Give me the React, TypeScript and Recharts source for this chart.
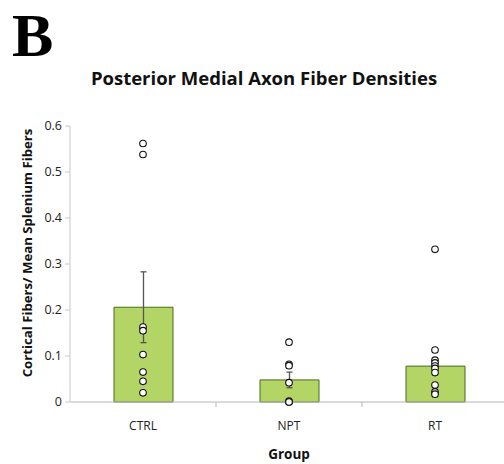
import React from 'react';
import { ComposedChart, Bar, Line, XAxis, YAxis, ErrorBar } from 'recharts';

const groups = ['CTRL', 'NPT', 'RT'];
const means = [0.206, 0.048, 0.078];
const sems = [0.077, 0.017, 0.016];
const ctrlPoints = [0.562, 0.538, 0.163, 0.155, 0.103, 0.065, 0.045, 0.02];
const nptPoints = [0.13, 0.082, 0.079, 0.042, 0.002, 0, 0];
const rtPoints = [0.332, 0.113, 0.091, 0.085, 0.078, 0.073, 0.064, 0.037, 0.022, 0.017];
const yTicks = [0, 0.1, 0.2, 0.3, 0.4, 0.5, 0.6];

const pointSets = [ctrlPoints, nptPoints, rtPoints];
const maxPoints = Math.max(...pointSets.map(p => p.length));
const pointKeys = Array.from({ length: maxPoints }, (_, i) => `p${i}`);

const data = groups.map((g, gi) => {
  const row: Record<string, any> = { group: g, mean: means[gi], sem: sems[gi] };
  pointKeys.forEach((k, i) => {
    row[k] = i < pointSets[gi].length ? pointSets[gi][i] : null;
  });
  return row;
});

const FONT = '"Open Sans", "Noto Sans", sans-serif';

const CategoryTick = (props: any) => {
  const { x, y, payload } = props;
  const half = payload && payload.offset ? payload.offset : 73;
  return (
    <g>
      <line x1={x + half} x2={x + half} y1={y - 16} y2={y - 11} stroke="#b5b5b5" />
      <text x={x} y={y + 12} textAnchor="middle" fontSize={12} fill="#222" fontFamily={FONT}>
        {payload.value}
      </text>
    </g>
  );
};

const YLabel = () => (
  <text
    transform="translate(27, 253) rotate(-90)"
    textAnchor="middle"
    dominantBaseline="central"
    fontSize={13.2}
    fontWeight="bold"
    fill="#111"
    fontFamily={FONT}
  >
    Cortical Fibers/ Mean Splenium Fibers
  </text>
);

export default function App() {
  return (
    <div style={{ position: 'absolute', left: 0, top: 0, width: 504, height: 464, overflow: 'hidden', background: '#fff' }}>
      <div style={{ position: 'absolute', left: 12, top: 0, fontFamily: '"Liberation Serif", serif', fontWeight: 'bold', fontSize: 62, lineHeight: 'normal', color: '#000' }}>
        B
      </div>
      <div style={{ position: 'absolute', left: 0, top: 66, width: 528, textAlign: 'center', fontFamily: FONT, fontWeight: 'bold', fontSize: 18.5, lineHeight: '24px', color: '#111', whiteSpace: 'nowrap' }}>
        Posterior Medial Axon Fiber Densities
      </div>
      <ComposedChart width={520} height={464} data={data} margin={{ top: 126, right: 12, left: 0, bottom: 2 }}>
        <XAxis
          dataKey="group"
          height={60}
          axisLine={{ stroke: '#b5b5b5' }}
          tickLine={false}
          tickSize={6}
          tickMargin={10}
          tick={<CategoryTick />}
          label={{ value: 'Group', position: 'insideBottom', offset: 3, fontSize: 13.5, fontWeight: 'bold', fill: '#111', fontFamily: FONT }}
        />
        <YAxis
          width={70}
          domain={[0, 0.6]}
          ticks={yTicks}
          interval={0}
          axisLine={{ stroke: '#c8c8c8' }}
          tickLine={{ stroke: '#c8c8c8' }}
          tickSize={5}
          tickMargin={3}
          tick={{ fontSize: 12.5, fill: '#222', fontFamily: FONT }}
          label={{ content: <YLabel /> }}
        />
        <Bar dataKey="mean" barSize={59} fill="#b3d566" stroke="#4b6a1e" strokeWidth={1} isAnimationActive={false}>
          <ErrorBar dataKey="sem" width={3} stroke="#555" strokeWidth={1.3} direction="y" />
        </Bar>
        {pointKeys.map(k => (
          <Line
            key={k}
            dataKey={k}
            stroke="none"
            legendType="none"
            dot={{ r: 3.3, fill: '#fff', stroke: '#111', strokeWidth: 1.1 }}
            activeDot={false}
            isAnimationActive={false}
          />
        ))}
      </ComposedChart>
    </div>
  );
}
